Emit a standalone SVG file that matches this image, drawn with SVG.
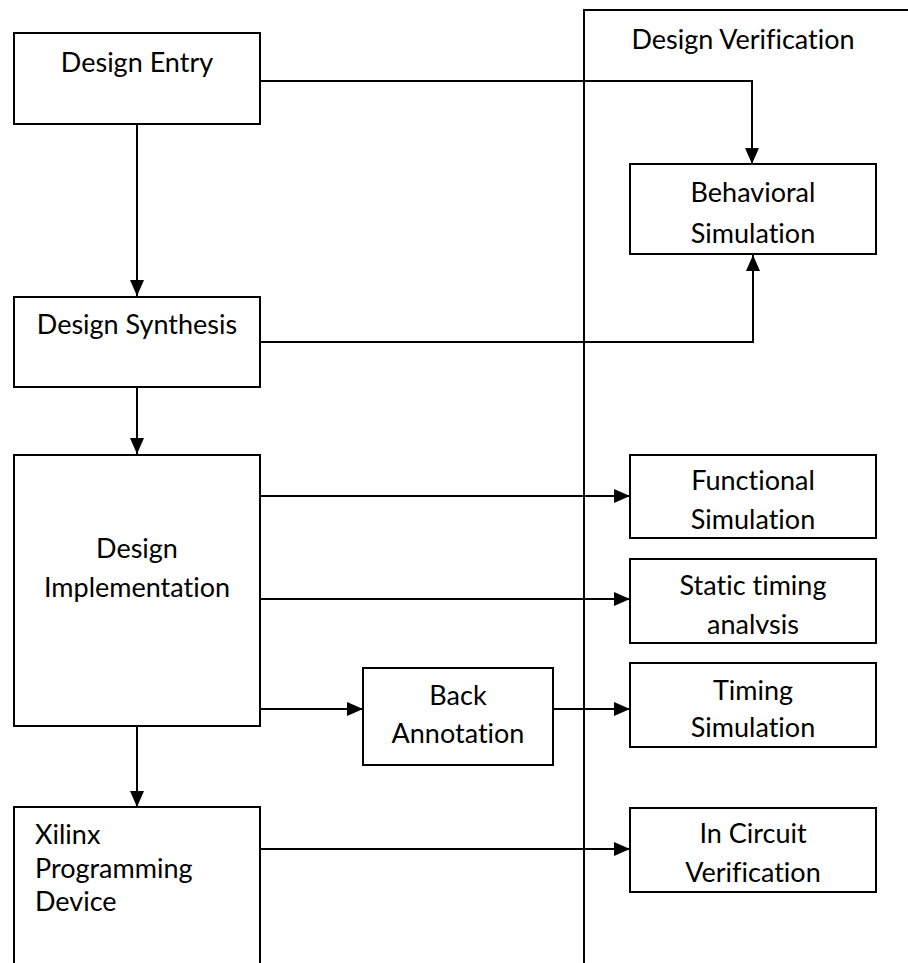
<svg xmlns="http://www.w3.org/2000/svg" width="908" height="963" viewBox="0 0 908 963">
  <style>
    .box { fill: #ffffff; stroke: #000000; stroke-width: 2; }
    .wire { fill: none; stroke: #000000; stroke-width: 2; }
    .lbl { font-family: Lato, "Liberation Sans", sans-serif; font-size: 27px; fill: #000000; text-anchor: middle; font-variant-ligatures: none; font-feature-settings: "liga" 0, "clig" 0; }
    .left { text-anchor: start; }
  </style>
  <defs>
    <marker id="arrow" viewBox="0 0 16 14" refX="16" refY="7" markerWidth="16" markerHeight="14" markerUnits="userSpaceOnUse" orient="auto">
      <path d="M0,0 L16,7 L0,14 Z" fill="#000000"/>
    </marker>
    <clipPath id="clipStatic">
      <rect x="630" y="559" width="246" height="75"/>
    </clipPath>
  </defs>
  <rect width="908" height="963" fill="#ffffff"/>

  <!-- verification lane border -->
  <g id="lane">
    <path class="wire" d="M584,963 V10 H908"/>
    <text class="lbl" x="743" y="49">Design Verification</text>
  </g>

  <!-- connectors -->
  <g id="connectors">
    <path class="wire" d="M260,81 H752 V164" marker-end="url(#arrow)"/>
    <path class="wire" d="M260,342 H753 V255" marker-end="url(#arrow)"/>
    <path class="wire" d="M137,124 V296" marker-end="url(#arrow)"/>
    <path class="wire" d="M137,387 V454" marker-end="url(#arrow)"/>
    <path class="wire" d="M137,726 V807" marker-end="url(#arrow)"/>
    <path class="wire" d="M260,496 H630" marker-end="url(#arrow)"/>
    <path class="wire" d="M260,599 H630" marker-end="url(#arrow)"/>
    <path class="wire" d="M260,709 H363" marker-end="url(#arrow)"/>
    <path class="wire" d="M553,709 H630" marker-end="url(#arrow)"/>
    <path class="wire" d="M260,849 H630" marker-end="url(#arrow)"/>
  </g>

  <g id="design-entry">
    <rect class="box" x="14" y="33" width="246" height="91"/>
    <text class="lbl" x="137" y="72">Design Entry</text>
  </g>

  <g id="design-synthesis">
    <rect class="box" x="14" y="297" width="246" height="90"/>
    <text class="lbl" x="137" y="334">Design Synthesis</text>
  </g>

  <g id="design-implementation">
    <rect class="box" x="14" y="455" width="246" height="271"/>
    <text class="lbl" x="137" y="558">Design</text>
    <text class="lbl" x="137" y="597">Implementation</text>
  </g>

  <g id="xilinx-programming">
    <rect class="box" x="14" y="807" width="246" height="170"/>
    <text class="lbl left" x="35" y="844">Xilinx</text>
    <text class="lbl left" x="35" y="878">Programming</text>
    <text class="lbl left" x="35" y="911">Device</text>
  </g>

  <g id="back-annotation">
    <rect class="box" x="363" y="668" width="190" height="97"/>
    <text class="lbl" x="458" y="705">Back</text>
    <text class="lbl" x="458" y="743">Annotation</text>
  </g>

  <g id="behavioral-simulation">
    <rect class="box" x="630" y="164" width="246" height="90"/>
    <text class="lbl" x="753" y="202">Behavioral</text>
    <text class="lbl" x="753" y="243">Simulation</text>
  </g>

  <g id="functional-simulation">
    <rect class="box" x="630" y="455" width="246" height="83"/>
    <text class="lbl" x="753" y="490">Functional</text>
    <text class="lbl" x="753" y="529">Simulation</text>
  </g>

  <g id="static-timing">
    <rect class="box" x="630" y="559" width="246" height="84"/>
    <text class="lbl" x="753" y="595">Static timing</text>
    <text class="lbl" x="753" y="634" clip-path="url(#clipStatic)">analysis</text>
  </g>

  <g id="timing-simulation">
    <rect class="box" x="630" y="663" width="246" height="84"/>
    <text class="lbl" x="753" y="700">Timing</text>
    <text class="lbl" x="753" y="737">Simulation</text>
  </g>

  <g id="in-circuit-verification">
    <rect class="box" x="630" y="808" width="246" height="84"/>
    <text class="lbl" x="753" y="843">In Circuit</text>
    <text class="lbl" x="753" y="882">Verification</text>
  </g>
</svg>
